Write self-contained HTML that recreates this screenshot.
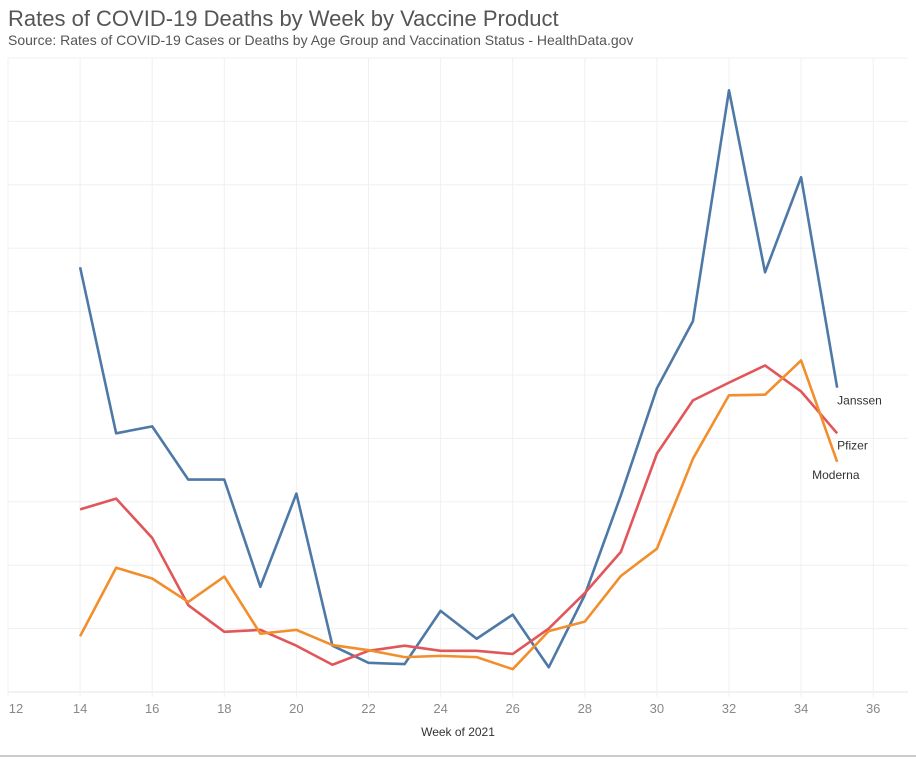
<!DOCTYPE html>
<html><head><meta charset="utf-8"><style>
body{margin:0;width:916px;height:759px;background:#fff;font-family:"Liberation Sans",sans-serif;overflow:hidden}
.t{position:absolute;left:8px;top:6px;font-size:22px;color:#555}
.s{position:absolute;left:8px;top:32px;font-size:14px;color:#555}
</style></head><body>
<div class="t">Rates of COVID-19 Deaths by Week by Vaccine Product</div>
<div class="s">Source: Rates of COVID-19 Cases or Deaths by Age Group and Vaccination Status - HealthData.gov</div>
<svg id="c" width="916" height="759" style="position:absolute;left:0;top:0"></svg>
<script>
const weeks=[14,15,16,17,18,19,20,21,22,23,24,25,26,27,28,29,30,31,32,33,34,35];
const janssen=[6.70,4.08,4.19,3.35,3.35,1.66,3.13,0.73,0.46,0.44,1.28,0.84,1.22,0.39,1.53,3.10,4.79,5.85,9.49,6.62,8.12,4.80];
const pfizer=[2.88,3.05,2.43,1.37,0.95,0.98,0.73,0.43,0.65,0.73,0.65,0.65,0.60,1.00,1.56,2.21,3.76,4.60,4.88,5.15,4.74,4.08];
const moderna=[0.88,1.96,1.79,1.42,1.82,0.92,0.98,0.74,0.66,0.55,0.57,0.55,0.36,0.96,1.11,1.83,2.26,3.68,4.68,4.69,5.23,3.63];
const xTicks=[12,14,16,18,20,22,24,26,28,30,32,34,36];
const yTicks=[0,1,2,3,4,5,6,7,8,9,10];
const NS="http://www.w3.org/2000/svg";
const svg=document.getElementById('c');
const X=w=>8+(w-12)*36.05;
const Y=v=>692-v*63.4;
function mk(t,a){const e=document.createElementNS(NS,t);for(const k in a)e.setAttribute(k,a[k]);svg.appendChild(e);return e;}
yTicks.forEach(v=>{const l=mk('line',{x1:8,x2:908,y1:Y(v),y2:Y(v),stroke:v===0?'#e6e6e6':'#f0f0f0','stroke-width':1});

});
xTicks.forEach(w=>{const l=mk('line',{x1:X(w),x2:X(w),y1:Y(10),y2:697,stroke:'#f0f0f0','stroke-width':1});


const t=mk('text',{x:X(w)+(w===12?8:0),y:713,'text-anchor':'middle','font-size':13,fill:'#888'});t.textContent=w;

});
const xt=mk('text',{x:458,y:736,'text-anchor':'middle','font-size':12,fill:'#333'});xt.textContent='Week of 2021';


const bl=mk('line',{x1:0,x2:916,y1:756,y2:756,stroke:'#bbb','stroke-width':1.5});


const series=[['janssen',janssen,'#4e79a7','Janssen',17],['pfizer',pfizer,'#e15759','Pfizer',16],['moderna',moderna,'#f28e2b','Moderna',17]];
series.forEach(([n,d,c,lab,dy])=>{
 const p=mk('polyline',{points:d.map((v,i)=>X(weeks[i])+','+Y(v)).join(' '),fill:'none',stroke:c,'stroke-width':2.6,'stroke-linejoin':'round'});
 
 
 const last=d[d.length-1];
 const t=mk('text',{x:n==='moderna'?X(35)-25:X(35),y:Y(last)+dy,'font-size':12,fill:'#333'});t.textContent=lab;
 
 
});
</script>
</body></html>
